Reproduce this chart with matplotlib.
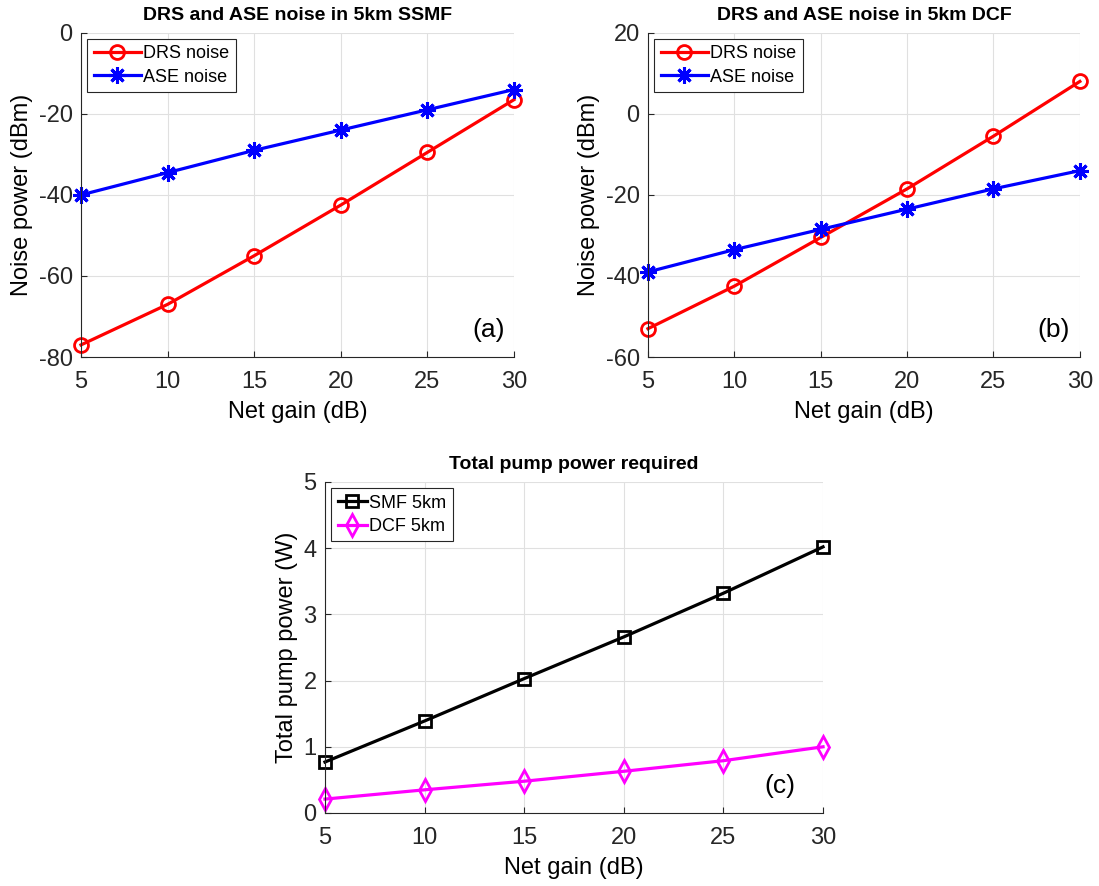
import numpy as np
import matplotlib.pyplot as plt

plt.rcParams['font.family'] = ['Liberation Sans', 'DejaVu Sans']
plt.rcParams['axes.unicode_minus'] = False

gain = [5, 10, 15, 20, 25, 30]

# (a) 5 km SSMF
drs_ssmf = [-77, -67, -55, -42.5, -29.5, -16.5]
ase_ssmf = [-40, -34.5, -29, -24, -19, -14]

# (b) 5 km DCF
drs_dcf = [-53, -42.5, -30.5, -18.5, -5.5, 8]
ase_dcf = [-39, -33.5, -28.5, -23.5, -18.5, -14]

# (c) total pump power
pump_smf = [0.77, 1.39, 2.03, 2.66, 3.32, 4.02]
pump_dcf = [0.21, 0.35, 0.48, 0.63, 0.79, 1.0]

ASTERISK = (8, 2, 0)  # matlab '*' = plus + cross


def style_axes(ax, title, ylabel, ylim, yticks, tag, tagx, hlen):
    ax.set_title(title, fontsize=14, fontweight='bold', pad=9)
    ax.set_xlabel('Net gain (dB)', fontsize=17, labelpad=6)
    ax.set_ylabel(ylabel, fontsize=17, labelpad=4)
    ax.set_xlim(5, 30)
    ax.set_ylim(*ylim)
    ax.set_xticks(gain)
    ax.set_yticks(yticks)
    ax.tick_params(labelsize=17, direction='in', length=4, color='#262626',
                   labelcolor='#262626', top=False, right=False)
    ax.tick_params(axis='x', pad=10)
    ax.tick_params(axis='y', pad=6)
    ax.grid(True, color='#e0e0e0', linewidth=0.8)
    ax.set_axisbelow(True)
    for side in ['top', 'right']:
        ax.spines[side].set_visible(False)
    for side in ['left', 'bottom']:
        ax.spines[side].set_color('#262626')
    ax.text(tagx, 0.045, tag, transform=ax.transAxes, fontsize=19,
            ha='right', va='bottom')
    leg = ax.legend(loc='upper left', fontsize=13, fancybox=False,
                    edgecolor='#262626', framealpha=1, handlelength=hlen,
                    borderaxespad=0.35, handletextpad=0.15, borderpad=0.35,
                    labelspacing=0.35)
    leg.get_frame().set_linewidth(0.8)


fig = plt.figure(figsize=(10.99, 8.86), dpi=100)

ax1 = fig.add_axes([0.0737, 0.597, 0.394, 0.366])
ax1.plot(gain, drs_ssmf, '-o', color='red', lw=2.3, ms=10, mfc='none',
         mew=2, label='DRS noise', clip_on=False)
ax1.plot(gain, ase_ssmf, '-', marker=ASTERISK, color='blue', lw=2.3, ms=12,
         mew=2.2, label='ASE noise', clip_on=False)
style_axes(ax1, 'DRS and ASE noise in 5km SSMF', 'Noise power (dBm)',
           (-80, 0), [-80, -60, -40, -20, 0], '(a)', 0.98, 2.6)

ax2 = fig.add_axes([0.5896, 0.597, 0.393, 0.366])
ax2.plot(gain, drs_dcf, '-o', color='red', lw=2.3, ms=10, mfc='none',
         mew=2, label='DRS noise', clip_on=False)
ax2.plot(gain, ase_dcf, '-', marker=ASTERISK, color='blue', lw=2.3, ms=12,
         mew=2.2, label='ASE noise', clip_on=False)
style_axes(ax2, 'DRS and ASE noise in 5km DCF', 'Noise power (dBm)',
           (-60, 20), [-60, -40, -20, 0, 20], '(b)', 0.977, 2.6)

ax3 = fig.add_axes([0.2957, 0.0824, 0.4532, 0.3736])
ax3.plot(gain, pump_smf, '-s', color='black', lw=2.3, ms=9, mfc='none',
         mew=2, label='SMF 5km', clip_on=False)
ax3.plot(gain, pump_dcf, '-d', color='magenta', lw=2.3, ms=11, mfc='none',
         mew=2, label='DCF 5km', clip_on=False)
style_axes(ax3, 'Total pump power required', 'Total pump power (W)',
           (0, 5), [0, 1, 2, 3, 4, 5], '(c)', 0.944, 1.6)

fig.savefig('out.png', dpi=100)
